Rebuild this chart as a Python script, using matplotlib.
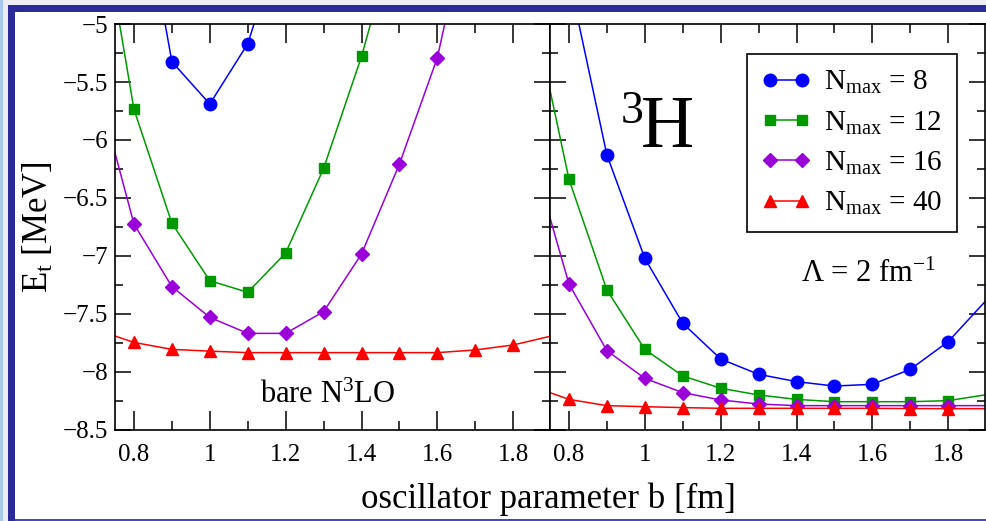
import numpy as np
import matplotlib
matplotlib.use("Agg")
import matplotlib.pyplot as plt
from matplotlib.patches import Rectangle
from matplotlib.ticker import MultipleLocator, FuncFormatter

plt.rcParams['font.family'] = ['Liberation Serif', 'DejaVu Serif']
plt.rcParams['mathtext.fontset'] = 'custom'
plt.rcParams['mathtext.rm'] = 'Liberation Serif'
plt.rcParams['mathtext.it'] = 'Liberation Serif:italic'
plt.rcParams['axes.unicode_minus'] = True

# oscillator parameter b [fm]; points outside the window only steer the lines
b = np.array([0.7, 0.8, 0.9, 1.0, 1.1, 1.2, 1.3, 1.4, 1.5, 1.6, 1.7, 1.8, 1.9])
nan = np.nan

# left panel: bare N3LO
bare_n8 = [nan, -3.50, -5.325, -5.69, -5.17, -4.15, nan, nan, nan, nan, nan, nan, nan]
bare_n12 = [-3.80, -5.735, -6.718, -7.213, -7.313, -6.974, -6.245, -5.28, -4.10, nan, nan, nan, nan]
bare_n16 = [-5.50, -6.724, -7.264, -7.529, -7.667, -7.667, -7.48, -6.983, -6.207, -5.29, -3.80, nan, nan]
bare_n40 = [-7.635, -7.745, -7.805, -7.82, -7.833, -7.833, -7.833, -7.833, -7.833, -7.833, -7.81, -7.767, -7.69]

# right panel: Lambda = 2 fm^-1
srg_n8 = [nan, -4.60, -6.129, -7.02, -7.58, -7.888, -8.02, -8.083, -8.121, -8.106, -7.977, -7.738, -7.383]
srg_n12 = [-4.80, -6.339, -7.293, -7.805, -8.034, -8.14, -8.198, -8.236, -8.256, -8.256, -8.256, -8.247, -8.196]
srg_n16 = [-6.10, -7.241, -7.816, -8.055, -8.178, -8.241, -8.276, -8.29, -8.29, -8.29, -8.29, -8.29, -8.29]
srg_n40 = [-8.12, -8.236, -8.29, -8.299, -8.307, -8.313, -8.313, -8.313, -8.313, -8.313, -8.315, -8.316, -8.316]

labels = ['N$_\\mathrm{max}$ = 8', 'N$_\\mathrm{max}$ = 12',
          'N$_\\mathrm{max}$ = 16', 'N$_\\mathrm{max}$ = 40']
colors = ['#0000ff', '#009a00', '#9a00d8', '#ff0000']
markers = ['o', 's', 'D', '^']
msizes = [9.0, 7.8, 7.2, 9.3]

W, H = 986, 521
fig = plt.figure(figsize=(W / 100, H / 100), dpi=100)

# slide frame decoration
fig.patches.append(Rectangle((0, 0), 1, 1, transform=fig.transFigure,
                             facecolor='#ececf2', edgecolor='none', zorder=-10))
fig.patches.append(Rectangle((0, 0), 3 / W, 1, transform=fig.transFigure,
                             facecolor='#a8c8ee', edgecolor='none', zorder=-9))
fig.patches.append(Rectangle((8 / W, 0), 1, 1 - 5 / H, transform=fig.transFigure,
                             facecolor='#2a2a98', edgecolor='none', zorder=-8))
fig.patches.append(Rectangle((15 / W, 2 / H), 1, 1 - 14 / H, transform=fig.transFigure,
                             facecolor='white', edgecolor='none', zorder=-7))
fig.patches.append(Rectangle((15 / W, 0), 1, 2 / H, transform=fig.transFigure,
                             facecolor='#4848c0', edgecolor='none', zorder=-7))

x0, x1, xm = 115, 985, 550
y0, y1 = 24, 430
axL = fig.add_axes([x0 / W, 1 - y1 / H, (xm - x0) / W, (y1 - y0) / H])
axR = fig.add_axes([xm / W, 1 - y1 / H, (x1 - xm) / W, (y1 - y0) / H])

show = (b > 0.76) & (b < 1.85)
fmt = FuncFormatter(lambda v, p: ('%g' % v).replace('-', '\u2212'))

for ax, series in ((axL, [bare_n8, bare_n12, bare_n16, bare_n40]),
                   (axR, [srg_n8, srg_n12, srg_n16, srg_n40])):
    for yv, c, m, ms, lab in zip(series, colors, markers, msizes, labels):
        ax.plot(b, yv, color=c, lw=1.1, marker=m, ms=ms, mec=c, mfc=c,
                markevery=list(show), label=lab)
    ax.set_xlim(0.75, 1.897)
    ax.set_ylim(-8.5, -5)
    ax.xaxis.set_major_locator(MultipleLocator(0.2))
    ax.xaxis.set_minor_locator(MultipleLocator(0.1))
    ax.yaxis.set_major_locator(MultipleLocator(0.5))
    ax.yaxis.set_minor_locator(MultipleLocator(0.25))
    ax.xaxis.set_major_formatter(fmt)
    ax.yaxis.set_major_formatter(fmt)
    ax.tick_params(which='both', direction='in', top=True, right=True,
                   width=1.1, labelsize=18, color='black')
    ax.tick_params(axis='x', which='major', length=13.5, pad=10)
    ax.tick_params(axis='x', which='minor', length=6.5)
    ax.tick_params(axis='y', which='major', length=11.5, pad=5)
    ax.tick_params(axis='y', which='minor', length=5.5)
    for s in ax.spines.values():
        s.set_linewidth(1.2)

axR.tick_params(axis='y', labelleft=False)
axL.set_ylabel('E$_\\mathrm{t}$ [MeV]', fontsize=25, labelpad=5)

fig.text(548 / W, 1 - 508 / H, 'oscillator parameter b [fm]', fontsize=25,
         ha='center', va='baseline')

axL.text(0.333, 0.0665, 'bare N$^3$LO', transform=axL.transAxes,
         fontsize=22, ha='left', va='baseline')
axR.text(0.162, 0.755, '3', transform=axR.transAxes, fontsize=33,
         ha='left', va='baseline')
axR.text(0.21, 0.697, 'H', transform=axR.transAxes, fontsize=53,
         ha='left', va='baseline')
axR.text(0.577, 0.3645, '\u039b = 2 fm$^{\u22121}$', transform=axR.transAxes,
         fontsize=22, ha='left', va='baseline')

leg = axR.legend(loc='upper right', bbox_to_anchor=(0.936, 0.925),
                 borderaxespad=0, fontsize=21, numpoints=2, handlelength=1.7,
                 handletextpad=0.45, labelspacing=0.45, borderpad=0.5,
                 fancybox=False, framealpha=1, edgecolor='black')
leg.get_frame().set_linewidth(1.2)

fig.savefig('out.png', dpi=100)
